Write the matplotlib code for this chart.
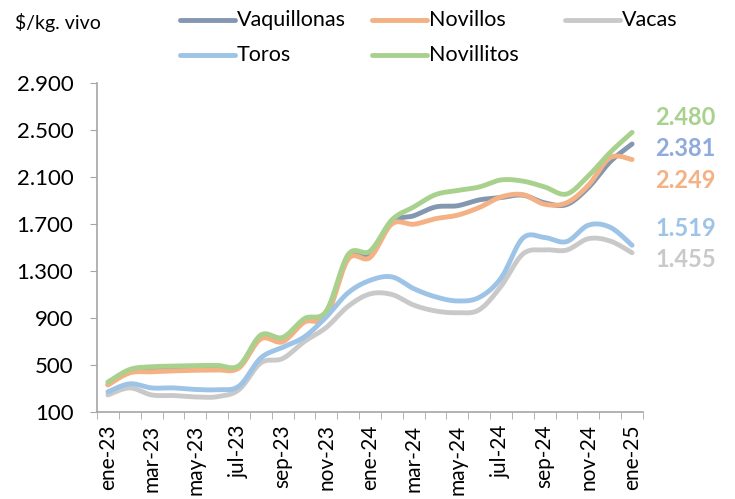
import numpy as np
import matplotlib
matplotlib.use("Agg")
import matplotlib.pyplot as plt
from matplotlib.lines import Line2D

# monthly prices, $/kg vivo, ene-23 .. ene-25
meses = ["ene-23", "feb-23", "mar-23", "abr-23", "may-23", "jun-23", "jul-23", "ago-23",
         "sep-23", "oct-23", "nov-23", "dic-23", "ene-24", "feb-24", "mar-24", "abr-24",
         "may-24", "jun-24", "jul-24", "ago-24", "sep-24", "oct-24", "nov-24", "dic-24", "ene-25"]

vaquillonas = [335, 448, 470, 472, 480, 482, 485, 735, 712, 875, 935, 1415, 1430,
               1715, 1770, 1845, 1855, 1905, 1925, 1945, 1880, 1865, 2010, 2230, 2381]
novillos = [330, 433, 442, 450, 455, 458, 475, 722, 698, 865, 915, 1400, 1415,
            1700, 1698, 1745, 1775, 1840, 1930, 1950, 1868, 1880, 2030, 2265, 2249]
vacas = [245, 305, 245, 240, 228, 230, 290, 518, 555, 700, 820, 1000, 1105,
         1100, 1010, 960, 945, 970, 1170, 1445, 1480, 1478, 1575, 1555, 1455]
toros = [272, 340, 305, 305, 292, 290, 320, 560, 650, 740, 910, 1115, 1220,
         1250, 1150, 1080, 1045, 1075, 1240, 1580, 1585, 1550, 1690, 1672, 1519]
novillitos = [355, 462, 485, 490, 495, 497, 495, 755, 735, 895, 960, 1440, 1470,
              1735, 1845, 1950, 1985, 2015, 2075, 2065, 2015, 1955, 2110, 2310, 2480]

series = [
    ("Vaquillonas", vaquillonas, "#8497B0", "#8FAADC"),
    ("Novillos", novillos, "#F4B183", "#F4B183"),
    ("Vacas", vacas, "#C9C9C9", "#C9C9C9"),
    ("Toros", toros, "#9DC3E6", "#9DC3E6"),
    ("Novillitos", novillitos, "#A9D18E", "#A9D18E"),
]

# offsets (pixels) of the end labels so they don't overlap
label_dy = {"Novillitos": 15, "Vaquillonas": -5, "Novillos": -21, "Toros": 17, "Vacas": -7}

# legend slots (figure pixels, from top-left): x of the line start, y of the row
legend_pos = {"Vaquillonas": (180, 20), "Novillos": (372, 20), "Vacas": (565, 20),
              "Toros": (180, 55), "Novillitos": (372, 55)}


def smooth(y, n=20):
    # excel-like smoothed line: cubic bezier through every point
    y = np.asarray(y, dtype=float)
    x = np.arange(len(y), dtype=float)
    xs, ys = [], []
    for i in range(len(y) - 1):
        x0, y0 = x[i], y[i]
        x3, y3 = x[i + 1], y[i + 1]
        xp, yp = (x[i - 1], y[i - 1]) if i > 0 else (x0, y0)
        xn, yn = (x[i + 2], y[i + 2]) if i + 2 < len(y) else (x3, y3)
        x1, y1 = x0 + (x3 - xp) / 6, y0 + (y3 - yp) / 6
        x2, y2 = x3 - (xn - x0) / 6, y3 - (yn - y0) / 6
        t = np.linspace(0, 1, n, endpoint=(i == len(y) - 2))
        a, b, c, d = (1 - t) ** 3, 3 * t * (1 - t) ** 2, 3 * t ** 2 * (1 - t), t ** 3
        xs.append(a * x0 + b * x1 + c * x2 + d * x3)
        ys.append(a * y0 + b * y1 + c * y2 + d * y3)
    return np.concatenate(xs), np.concatenate(ys)


plt.rcParams["font.family"] = ["Lato", "DejaVu Sans"]

W, H = 735, 499
fig = plt.figure(figsize=(W / 100, H / 100), dpi=100)
ax = fig.add_axes([97 / W, 1 - 412 / H, (643 - 97) / W, (412 - 83) / H])

for name, vals, color, lab_color in series:
    xs, ys = smooth(vals)
    ax.plot(xs, ys, color=color, lw=3.5, solid_capstyle="round")
    ax.annotate(f"{vals[-1]:,}".replace(",", "."), xy=(len(vals) - 1, vals[-1]),
                xytext=(23, label_dy[name]), textcoords="offset pixels",
                color=lab_color, fontsize=17, fontweight="bold", va="center", ha="left",
                annotation_clip=False)
    lx, ly = legend_pos[name]
    fig.add_artist(Line2D([lx / W, (lx + 55) / W], [1 - ly / H, 1 - ly / H],
                          color=color, lw=3.5, solid_capstyle="round"))
    fig.text((lx + 57) / W, 1 - ly / H, name, fontsize=15.5, va="center", ha="left")

ax.set_xlim(-0.5, len(meses) - 0.5)
ax.set_ylim(100, 2900)
ax.set_yticks(np.arange(100, 2901, 400))
ax.set_yticklabels([f"{v:,}".replace(",", ".") for v in range(100, 2901, 400)], fontsize=16)

ax.set_xticks(np.arange(0, len(meses), 2))
ax.set_xticklabels(meses[::2], rotation=90, fontsize=15)
ax.set_xticks(np.arange(-0.5, len(meses), 1), minor=True)
ax.tick_params(axis="x", which="major", length=0, pad=9)
ax.tick_params(axis="x", which="minor", length=5, color="#A6A6A6", direction="out")
ax.tick_params(axis="y", length=5, color="#A6A6A6", direction="out", pad=12)

for s in ["top", "right"]:
    ax.spines[s].set_visible(False)
for s in ["left", "bottom"]:
    ax.spines[s].set_color("#A6A6A6")
    ax.spines[s].set_linewidth(1.2)

fig.text(15 / W, 1 - 22 / H, "$/kg. vivo", fontsize=14, va="center", ha="left")

fig.savefig("out.png", dpi=100)
